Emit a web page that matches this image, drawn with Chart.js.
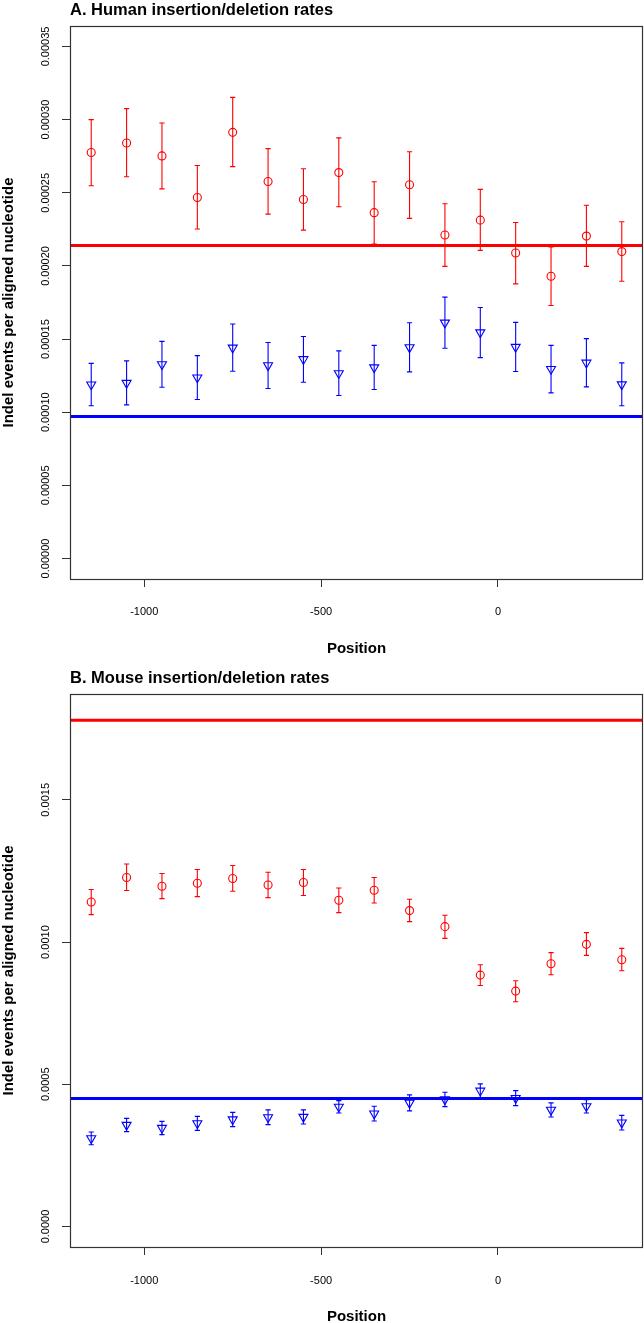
<!DOCTYPE html>
<html>
<head>
<meta charset="utf-8">
<script src="https://cdn.jsdelivr.net/npm/chart.js@4.4.1/dist/chart.umd.min.js"></script>
<style>
  html, body { margin: 0; padding: 0; background: #fff; overflow: hidden; width: 644px; height: 1323px; }
  canvas { position: absolute; left: 0; }
  #cA { top: 0; }
  #cB { top: 661px; }
</style>
</head>
<body>
<canvas id="cA" width="644" height="661"></canvas>
<canvas id="cB" width="644" height="670"></canvas>
<script>
// ---------------- DATA ----------------
const positions = [-1150, -1050, -950, -850, -750, -650, -550, -450, -350, -250, -150, -50, 50, 150, 250, 350];

const xTicks = [-1000, -500, 0];
const xTickLabels = ["-1000", "-500", "0"];

// Panel A: human
const humanTitle = "A. Human insertion/deletion rates";
const humanRed   = [0.0002775, 0.0002840, 0.0002752, 0.0002468, 0.0002913, 0.0002577, 0.0002454, 0.0002638, 0.0002364, 0.0002555, 0.0002211, 0.0002313, 0.0002088, 0.0001929, 0.0002204, 0.0002098];
const humanRedLo = [0.0002548, 0.0002610, 0.0002527, 0.0002252, 0.0002679, 0.0002354, 0.0002245, 0.0002404, 0.0002150, 0.0002325, 0.0001997, 0.0002106, 0.0001877, 0.0001730, 0.0001997, 0.0001895];
const humanRedHi = [0.0003000, 0.0003075, 0.0002977, 0.0002686, 0.0003152, 0.0002802, 0.0002664, 0.0002875, 0.0002575, 0.0002780, 0.0002425, 0.0002523, 0.0002297, 0.0002129, 0.0002415, 0.0002302];
const humanBlue   = [0.0001189, 0.0001200, 0.0001327, 0.0001237, 0.0001441, 0.0001320, 0.0001362, 0.0001266, 0.0001306, 0.0001443, 0.0001612, 0.0001545, 0.0001446, 0.0001295, 0.0001338, 0.0001190];
const humanBlueLo = [0.0001044, 0.0001050, 0.0001171, 0.0001087, 0.0001280, 0.0001162, 0.0001205, 0.0001114, 0.0001155, 0.0001276, 0.0001437, 0.0001373, 0.0001278, 0.0001132, 0.0001173, 0.0001044];
const humanBlueHi = [0.0001334, 0.0001351, 0.0001484, 0.0001387, 0.0001603, 0.0001477, 0.0001518, 0.0001419, 0.0001457, 0.0001612, 0.0001787, 0.0001716, 0.0001614, 0.0001457, 0.0001503, 0.0001337];
const humanRedMean = 0.000214;
const humanBlueMean = 0.000097;
const humanYTicks = [0, 0.00005, 0.0001, 0.00015, 0.0002, 0.00025, 0.0003, 0.00035];
const humanYTickLabels = ["0.00000", "0.00005", "0.00010", "0.00015", "0.00020", "0.00025", "0.00030", "0.00035"];
const humanYRange = [0, 0.00035];

// Panel B: mouse
const mouseTitle = "B. Mouse insertion/deletion rates";
const mouseRed   = [0.0011408, 0.0012267, 0.0011961, 0.0012067, 0.0012232, 0.0012007, 0.0012091, 0.0011468, 0.0011820, 0.0011106, 0.0010542, 0.0008838, 0.0008275, 0.0009239, 0.0009919, 0.0009380];
const mouseRedLo = [0.0010965, 0.0011810, 0.0011528, 0.0011598, 0.0011785, 0.0011563, 0.0011634, 0.0011035, 0.0011373, 0.0010718, 0.0010130, 0.0008475, 0.0007902, 0.0008852, 0.0009532, 0.0008993];
const mouseRedHi = [0.0011845, 0.0012746, 0.0012408, 0.0012549, 0.0012690, 0.0012454, 0.0012549, 0.0011901, 0.0012267, 0.0011503, 0.0010940, 0.0009204, 0.0008641, 0.0009627, 0.0010331, 0.0009778];
const mouseBlue   = [0.0003099, 0.0003571, 0.0003465, 0.0003627, 0.0003763, 0.0003838, 0.0003852, 0.0004209, 0.0003969, 0.0004345, 0.0004468, 0.0004772, 0.0004514, 0.0004099, 0.0004226, 0.0003651];
const mouseBlueLo = [0.0002877, 0.0003335, 0.0003229, 0.0003381, 0.0003511, 0.0003581, 0.0003606, 0.0003993, 0.0003712, 0.0004064, 0.0004215, 0.0004532, 0.0004250, 0.0003852, 0.0003993, 0.0003395];
const mouseBlueHi = [0.0003324, 0.0003803, 0.0003697, 0.0003873, 0.0004014, 0.0004099, 0.0004099, 0.0004426, 0.0004226, 0.0004627, 0.0004718, 0.0005014, 0.0004778, 0.0004345, 0.0004461, 0.0003908];
const mouseRedMean = 0.00178;
const mouseBlueMean = 0.00045;
const mouseYTicks = [0, 0.0005, 0.001, 0.0015];
const mouseYTickLabels = ["0.0000", "0.0005", "0.0010", "0.0015"];
const mouseYRange = [0, 0.0018];

const xRange = [-1150, 350];
const xLabel = "Position";
const yLabel = "Indel events per aligned nucleotide";

// ---------------- DRAWING ----------------
const FONT = "'Liberation Sans', Arial, Helvetica, sans-serif";
const RED = '#ff0000', BLUE = '#0000ff', AXIS = '#333333';

function expand(r) { const d = (r[1] - r[0]) * 0.04; return [r[0] - d, r[1] + d]; }

const errorBarPlugin = {
  id: 'errorBars',
  beforeDatasetsDraw(chart) {
    const ctx = chart.ctx, xs = chart.scales.x, ys = chart.scales.y;
    chart.data.datasets.forEach(ds => {
      if (!ds.errLo) return;
      ctx.save();
      ctx.strokeStyle = ds.borderColor;
      ctx.lineWidth = 1.1;
      ds.data.forEach((p, i) => {
        const x = xs.getPixelForValue(p.x);
        const lo = ys.getPixelForValue(ds.errLo[i]);
        const hi = ys.getPixelForValue(ds.errHi[i]);
        ctx.beginPath();
        ctx.moveTo(x, lo); ctx.lineTo(x, hi);
        ctx.moveTo(x - 2.6, lo); ctx.lineTo(x + 2.6, lo);
        ctx.moveTo(x - 2.6, hi); ctx.lineTo(x + 2.6, hi);
        ctx.stroke();
      });
      ctx.restore();
    });
  }
};

const decorPlugin = {
  id: 'decor',
  afterDatasetsDraw(chart, args, opts) {
    const ctx = chart.ctx, ca = chart.chartArea, ys = chart.scales.y;
    ctx.save();
    // genome-wide mean lines
    opts.hlines.forEach(h => {
      const y = ys.getPixelForValue(h.value);
      ctx.strokeStyle = h.color;
      ctx.lineWidth = 3;
      ctx.beginPath();
      ctx.moveTo(ca.left, y); ctx.lineTo(ca.right, y);
      ctx.stroke();
    });
    // box
    ctx.strokeStyle = AXIS;
    ctx.lineWidth = 1.2;
    ctx.strokeRect(Math.round(ca.left) + 0.5, Math.round(ca.top) + 0.5, Math.round(ca.right - ca.left) - 1, Math.round(ca.bottom - ca.top));
    // rotated y tick labels
    ctx.fillStyle = '#000';
    ctx.font = '11px ' + FONT;
    ctx.textAlign = 'center';
    ctx.textBaseline = 'middle';
    ys.ticks.forEach((t, i) => {
      const y = ys.getPixelForTick(i);
      ctx.save();
      ctx.translate(opts.yLabelX, y);
      ctx.rotate(-Math.PI / 2);
      ctx.fillText(opts.yTickLabels[i], 0, 0);
      ctx.restore();
    });
    // panel title
    ctx.font = 'bold 16.5px ' + FONT;
    ctx.textAlign = 'left';
    ctx.textBaseline = 'alphabetic';
    ctx.fillText(opts.title, ca.left, opts.titleY);
    ctx.restore();
  }
};

function makePanel(canvasId, p) {
  const yr = expand(p.yRange), xr = expand(xRange);
  const canvasH = document.getElementById(canvasId).height;
  return new Chart(document.getElementById(canvasId), {
    type: 'scatter',
    data: {
      datasets: [
        {
          data: positions.map((x, i) => ({ x, y: p.red[i] })),
          errLo: p.redLo, errHi: p.redHi,
          borderColor: RED, backgroundColor: 'rgba(0,0,0,0)',
          pointStyle: 'circle', pointRadius: 4, borderWidth: 1.1
        },
        {
          data: positions.map((x, i) => ({ x, y: p.blue[i] })),
          errLo: p.blueLo, errHi: p.blueHi,
          borderColor: BLUE, backgroundColor: 'rgba(0,0,0,0)',
          pointStyle: 'triangle', pointRotation: 180, pointRadius: 5.2, borderWidth: 1.1
        }
      ]
    },
    options: {
      responsive: false,
      animation: false,
      devicePixelRatio: 1,
      events: [],
      layout: { autoPadding: false, padding: { top: p.plotTop, right: 1, left: 0, bottom: 0 } },
      plugins: {
        legend: { display: false },
        tooltip: { enabled: false },
        decor: {
          hlines: [{ value: p.redMean, color: RED }, { value: p.blueMean, color: BLUE }],
          yTickLabels: p.yTickLabels,
          yLabelX: 46,
          title: p.title,
          titleY: p.titleY
        }
      },
      scales: {
        x: {
          type: 'linear',
          min: xr[0], max: xr[1],
          afterFit(s) { s.height = canvasH - p.plotBottom; s.paddingLeft = 0; s.paddingRight = 0; },
          afterBuildTicks(s) { s.ticks = xTicks.map(v => ({ value: v })); },
          border: { display: false },
          grid: { drawOnChartArea: false, drawTicks: true, tickLength: 8, color: AXIS, lineWidth: 1 },
          ticks: {
            color: '#000', font: { family: FONT, size: 11 }, padding: p.xTickPad,
            maxRotation: 0, autoSkip: false,
            callback: (v, i) => xTickLabels[i]
          },
          title: {
            display: true, text: xLabel, color: '#000',
            font: { family: FONT, size: 15, weight: 'bold', lineHeight: 1 },
            padding: { top: 0, bottom: p.xTitlePad }
          }
        },
        y: {
          type: 'linear',
          min: yr[0], max: yr[1],
          afterFit(s) { s.width = 70; s.paddingTop = 0; s.paddingBottom = 0; },
          afterBuildTicks(s) { s.ticks = p.yTicks.map(v => ({ value: v })); },
          border: { display: false },
          grid: { drawOnChartArea: false, drawTicks: true, tickLength: 8, color: AXIS, lineWidth: 1 },
          ticks: { display: false },
          title: {
            display: true, text: yLabel, color: '#000',
            font: { family: FONT, size: 15, weight: 'bold', lineHeight: 1 },
            padding: { top: 1.5, bottom: 0 }
          }
        }
      }
    },
    plugins: [errorBarPlugin, decorPlugin]
  });
}

makePanel('cA', {
  title: humanTitle, titleY: 15, plotTop: 26, plotBottom: 579, xTickPad: 18.4, xTitlePad: 4.5,
  red: humanRed, redLo: humanRedLo, redHi: humanRedHi,
  blue: humanBlue, blueLo: humanBlueLo, blueHi: humanBlueHi,
  redMean: humanRedMean, blueMean: humanBlueMean,
  yTicks: humanYTicks, yTickLabels: humanYTickLabels, yRange: humanYRange
});

makePanel('cB', {
  title: mouseTitle, titleY: 22, plotTop: 33, plotBottom: 586, xTickPad: 19.1, xTitlePad: 6.5,
  red: mouseRed, redLo: mouseRedLo, redHi: mouseRedHi,
  blue: mouseBlue, blueLo: mouseBlueLo, blueHi: mouseBlueHi,
  redMean: mouseRedMean, blueMean: mouseBlueMean,
  yTicks: mouseYTicks, yTickLabels: mouseYTickLabels, yRange: mouseYRange
});
</script>
</body>
</html>
